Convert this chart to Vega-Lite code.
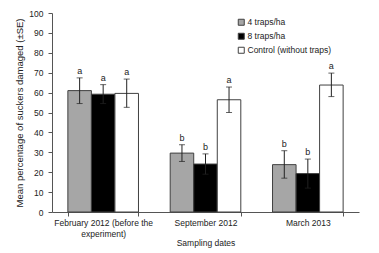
{
  "$schema": "https://vega.github.io/schema/vega-lite/v6.json",
  "autosize": "none",
  "width": 307,
  "height": 199,
  "padding": {"left": 52, "top": 13, "right": 20, "bottom": 41},
  "background": "white",
  "config": {
    "view": {"stroke": null},
    "font": "Liberation Sans",
    "axis": {"labelFont": "Liberation Sans", "titleFont": "Liberation Sans", "labelColor": "#222", "titleColor": "#222", "titleFontWeight": "normal", "domainColor": "#555", "tickColor": "#555"}
  },
  "data": {
    "values": [
      {"date": "February 2012 (before the experiment)", "treatment": "4 traps/ha", "mean": 61.0, "lo": 54.5, "hi": 67.4, "letter": "a"},
      {"date": "February 2012 (before the experiment)", "treatment": "8 traps/ha", "mean": 59.2, "lo": 54.5, "hi": 64.0, "letter": "a"},
      {"date": "February 2012 (before the experiment)", "treatment": "Control (without traps)", "mean": 59.6, "lo": 52.6, "hi": 66.8, "letter": "a"},
      {"date": "September 2012", "treatment": "4 traps/ha", "mean": 29.6, "lo": 25.4, "hi": 33.8, "letter": "b"},
      {"date": "September 2012", "treatment": "8 traps/ha", "mean": 24.1, "lo": 19.0, "hi": 29.2, "letter": "b"},
      {"date": "September 2012", "treatment": "Control (without traps)", "mean": 56.4, "lo": 50.0, "hi": 62.8, "letter": "a"},
      {"date": "March 2013", "treatment": "4 traps/ha", "mean": 23.8, "lo": 17.0, "hi": 30.8, "letter": "b"},
      {"date": "March 2013", "treatment": "8 traps/ha", "mean": 19.3, "lo": 12.0, "hi": 26.6, "letter": "b"},
      {"date": "March 2013", "treatment": "Control (without traps)", "mean": 63.8, "lo": 58.0, "hi": 69.8, "letter": "a"}
    ]
  },
  "encoding": {
    "x": {
      "field": "date", "type": "nominal", "sort": null,
      "scale": {"paddingInner": 0.31, "paddingOuter": 0.155},
      "axis": {
        "title": "Sampling dates", "titleFontSize": 8.5, "titlePadding": 1,
        "labelAngle": 0, "labelFontSize": 8.5, "labelPadding": 2, "labelLineHeight": 11,
        "tickBand": "extent", "tickSize": 4,
        "labelExpr": "datum.value == 'February 2012 (before the experiment)' ? ['February 2012 (before the', 'experiment)'] : datum.value"
      }
    },
    "xOffset": {"field": "treatment", "type": "nominal", "sort": ["4 traps/ha", "8 traps/ha", "Control (without traps)"]}
  },
  "layer": [
    {
      "mark": {"type": "bar", "stroke": "#404040", "strokeWidth": 1},
      "encoding": {
        "y": {
          "field": "mean", "type": "quantitative",
          "scale": {"domain": [0, 100]},
          "title": "Mean percentage of suckers damaged (±SE)",
          "axis": {"titleFontSize": 9.5, "titlePadding": 4, "labelFontSize": 8.5, "values": [0,10,20,30,40,50,60,70,80,90,100], "labelOverlap": false, "grid": false, "tickSize": 4, "labelPadding": 5}
        },
        "fill": {
          "field": "treatment", "type": "nominal",
          "scale": {"domain": ["4 traps/ha", "8 traps/ha", "Control (without traps)"], "range": ["#a6a6a6", "#000000", "#ffffff"]},
          "legend": {
            "title": null, "orient": "none", "legendX": 185, "legendY": 4,
            "symbolType": "square", "symbolSize": 36, "symbolStrokeColor": "#404040", "symbolStrokeWidth": 1,
            "labelFontSize": 8.5, "labelColor": "#222", "rowPadding": 3, "clipHeight": 10.5, "labelOffset": 2
          }
        }
      }
    },
    {
      "mark": {"type": "errorbar", "ticks": {"size": 6, "color": "#222"}, "rule": {"color": "#222"}},
      "encoding": {
        "y": {"field": "lo", "type": "quantitative", "scale": {"domain": [0, 100]}, "title": "Mean percentage of suckers damaged (±SE)",
          "axis": {"titleFontSize": 9.5, "titlePadding": 4, "labelFontSize": 8.5, "values": [0,10,20,30,40,50,60,70,80,90,100], "labelOverlap": false, "grid": false, "tickSize": 4, "labelPadding": 5}},
        "y2": {"field": "hi"}
      }
    },
    {
      "mark": {"type": "text", "dy": -7, "fontSize": 9, "color": "#222"},
      "encoding": {
        "y": {"field": "hi", "type": "quantitative", "scale": {"domain": [0, 100]}, "title": "Mean percentage of suckers damaged (±SE)",
          "axis": {"titleFontSize": 9.5, "titlePadding": 4, "labelFontSize": 8.5, "values": [0,10,20,30,40,50,60,70,80,90,100], "labelOverlap": false, "grid": false, "tickSize": 4, "labelPadding": 5}},
        "text": {"field": "letter"}
      }
    }
  ]
}
